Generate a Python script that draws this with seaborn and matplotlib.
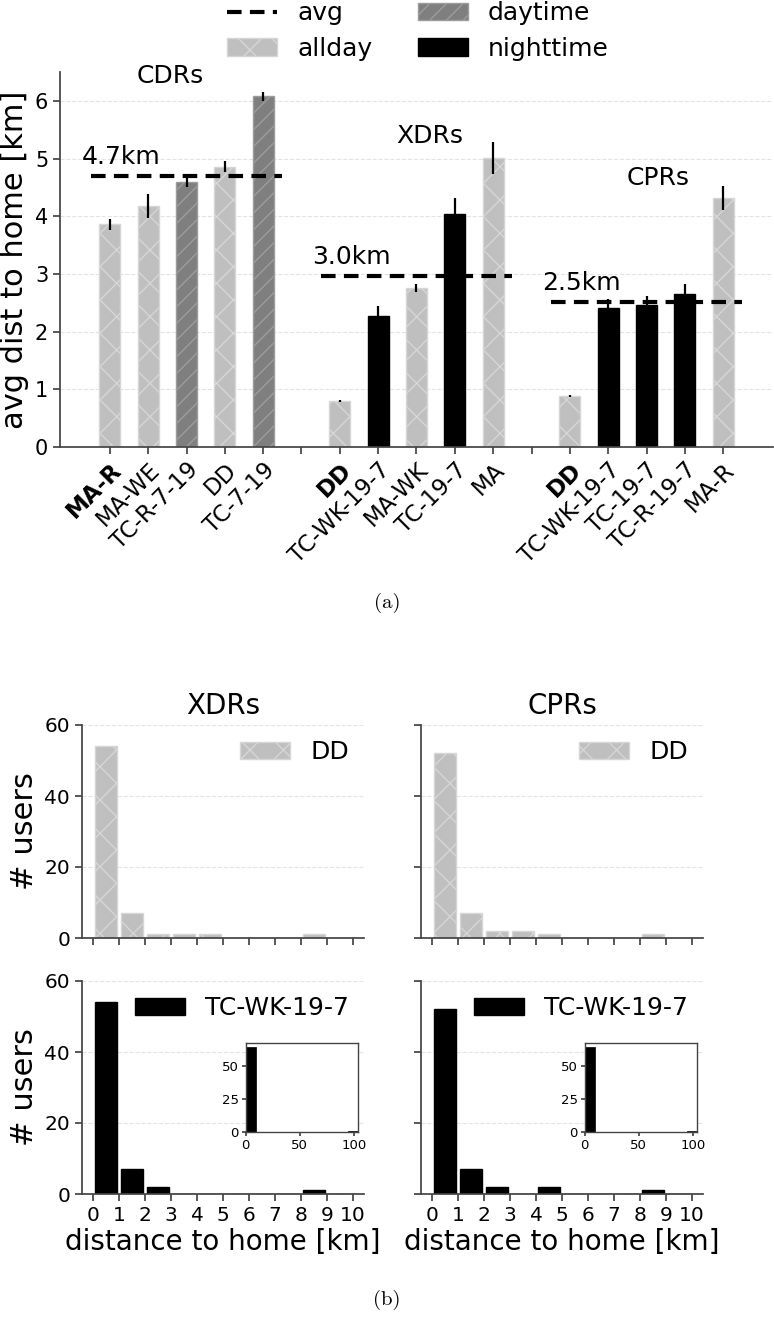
import numpy as np
import pandas as pd
import matplotlib
matplotlib.use("Agg")
import matplotlib.pyplot as plt
from matplotlib.patches import Patch
from matplotlib.lines import Line2D
import seaborn as sns

# ---------------- data ----------------
group_names = ["CDRs", "XDRs", "CPRs"]

cdr_labels = ["MA-R", "MA-WE", "TC-R-7-19", "DD", "TC-7-19"]
cdr_types = ["allday", "allday", "daytime", "allday", "daytime"]
cdr_vals = [3.86, 4.18, 4.60, 4.86, 6.08]
cdr_errs = [0.09, 0.21, 0.10, 0.09, 0.08]

xdr_labels = ["DD", "TC-WK-19-7", "MA-WK", "TC-19-7", "MA"]
xdr_types = ["allday", "nighttime", "allday", "nighttime", "allday"]
xdr_vals = [0.80, 2.27, 2.76, 4.04, 5.01]
xdr_errs = [0.02, 0.18, 0.07, 0.27, 0.28]

cpr_labels = ["DD", "TC-WK-19-7", "TC-19-7", "TC-R-19-7", "MA-R"]
cpr_types = ["allday", "nighttime", "nighttime", "nighttime", "allday"]
cpr_vals = [0.88, 2.41, 2.46, 2.65, 4.31]
cpr_errs = [0.02, 0.16, 0.16, 0.17, 0.21]

group_avgs = [4.70, 2.97, 2.52]

# histogram data (counts per 1 km bin, 0..10 km)
hist_edges = list(range(0, 11))
xdr_dd_counts = [54, 7, 1, 1, 1, 0, 0, 0, 1, 0]
cpr_dd_counts = [52, 7, 2, 2, 1, 0, 0, 0, 1, 0]
xdr_night_counts = [54, 7, 2, 0, 0, 0, 0, 0, 1, 0]
cpr_night_counts = [52, 7, 2, 0, 2, 0, 0, 0, 1, 0]
# inset: full range 0..104 km, 10 bins
inset_edges = list(np.linspace(0, 104, 11))
xdr_night_inset = [64, 0, 0, 0, 0, 0, 0, 0, 0, 1]
cpr_night_inset = [64, 0, 0, 0, 0, 0, 0, 0, 0, 1]

# ---------------- style ----------------
sns.set_theme(style="ticks")
plt.rcParams["font.family"] = ["DejaVu Sans"]
plt.rcParams["hatch.linewidth"] = 1.0
for k in ["text.color", "axes.labelcolor", "xtick.labelcolor", "ytick.labelcolor"]:
    plt.rcParams[k] = "black"

styles = {
    "allday": dict(facecolor="#bfbfbf", edgecolor="#d6d6d6", hatch="x"),
    "daytime": dict(facecolor="#7f7f7f", edgecolor="#9c9c9c", hatch="//"),
    "nighttime": dict(facecolor="#000000", edgecolor="#000000"),
}
grid_kw = dict(color="#e3e3e3", linestyle="--", linewidth=0.8)
spine_col = "#444444"

W, H = 774, 1317
fig = plt.figure(figsize=(W / 100, H / 100), dpi=100)

def fr(l, t, r, b):
    return [l / W, 1 - b / H, (r - l) / W, (b - t) / H]

# ---------------- top bar chart ----------------
ax = fig.add_axes(fr(60, 72, 773, 447))
groups = [
    (cdr_labels, cdr_types, cdr_vals, cdr_errs),
    (xdr_labels, xdr_types, xdr_vals, xdr_errs),
    (cpr_labels, cpr_types, cpr_vals, cpr_errs),
]
tick_pos, tick_lab = [], []
pos = 0
title_off = [(1.58, 6.43), (2.35, 5.39), (2.3, 4.67)]
for gi, (labs, typs, vals, errs) in enumerate(groups):
    start = pos
    xs = np.arange(start, start + len(labs))
    for x, t, v, e in zip(xs, typs, vals, errs):
        ax.bar(x, v, width=0.55, linewidth=1.0, zorder=2, **styles[t])
        ax.errorbar(x, v, yerr=e, color="black", linewidth=1.6, capsize=0, zorder=3)
    avg = group_avgs[gi]
    ax.plot([start - 0.5, xs[-1] + 0.5], [avg, avg], color="black",
            linestyle=(0, (3.5, 2)), linewidth=3, zorder=4)
    ax.text(start - 0.72, avg + 0.33, f"{avg:.1f}km", fontsize=18,
            va="center", ha="left")
    ax.text(start + title_off[gi][0], title_off[gi][1], group_names[gi],
            fontsize=18, ha="center", va="center")
    tick_pos += list(xs)
    tick_lab += labs
    if gi < 2:
        tick_pos.append(xs[-1] + 1)
        tick_lab.append("")
    pos = xs[-1] + 2

ax.set_xticks(tick_pos)
ax.set_xticklabels(tick_lab, rotation=45, ha="right", rotation_mode="anchor",
                   fontsize=16.5)
xt = ax.get_xticklabels()
for i in [0, 6, 12]:
    xt[i].set_fontweight("bold")
ax.set_xlim(-1.3, 17.3)
ax.set_ylim(0, 6.5)
ax.set_yticks(range(0, 7))
ax.tick_params(axis="y", labelsize=15, length=5, color=spine_col)
ax.tick_params(axis="x", length=5, color=spine_col, pad=3)
ax.set_ylabel("avg dist to home [km]", fontsize=22, labelpad=4)
ax.yaxis.grid(True, **grid_kw)
ax.set_axisbelow(True)
sns.despine(ax=ax)
for s in ["left", "bottom"]:
    ax.spines[s].set_color(spine_col)

leg_handles = [
    Line2D([0], [0], color="black", linestyle=(0, (3.5, 2)), linewidth=3, label="avg"),
    Patch(label="allday", **styles["allday"]),
    Patch(label="daytime", **styles["daytime"]),
    Patch(label="nighttime", **styles["nighttime"]),
]
fig.legend(handles=leg_handles, ncol=2, loc="upper center",
           bbox_to_anchor=(0.54, 1.016), frameon=False, fontsize=18,
           columnspacing=1.82, handlelength=2.0, labelspacing=0.45)

fig.text(0.5, 1 - 603 / H, "(a)", family="cmr10", fontsize=15, ha="center", va="center")
fig.text(0.5, 1 - 1300 / H, "(b)", family="cmr10", fontsize=15, ha="center", va="center")

# ---------------- histograms ----------------
centers = [(a + b) / 2 for a, b in zip(hist_edges[:-1], hist_edges[1:])]
inset_centers = [(a + b) / 2 for a, b in zip(inset_edges[:-1], inset_edges[1:])]
boxes = {
    (0, 0): fr(82, 725, 364, 938),
    (0, 1): fr(421, 725, 703, 938),
    (1, 0): fr(82, 981, 364, 1194),
    (1, 1): fr(421, 981, 703, 1194),
}
hist_data = {
    (0, 0): (xdr_dd_counts, "allday", "DD"),
    (0, 1): (cpr_dd_counts, "allday", "DD"),
    (1, 0): (xdr_night_counts, "nighttime", "TC-WK-19-7"),
    (1, 1): (cpr_night_counts, "nighttime", "TC-WK-19-7"),
}
inset_data = {(1, 0): xdr_night_inset, (1, 1): cpr_night_inset}
col_titles = ["XDRs", "CPRs"]

for (r, c), box in boxes.items():
    hax = fig.add_axes(box)
    counts, typ, lab = hist_data[(r, c)]
    st = styles[typ]
    df = pd.DataFrame({"dist": centers, "n": counts})
    sns.histplot(data=df, x="dist", weights="n", bins=hist_edges, shrink=0.83,
                 ax=hax, color=st["facecolor"], edgecolor=st["edgecolor"],
                 hatch=st.get("hatch"), linewidth=1.0, alpha=1, zorder=2)
    hax.set_xlim(-0.43, 10.43)
    hax.set_ylim(0, 60)
    hax.set_yticks([0, 20, 40, 60])
    hax.set_xticks(range(0, 11))
    hax.yaxis.grid(True, **grid_kw)
    hax.set_axisbelow(True)
    sns.despine(ax=hax)
    for s in ["left", "bottom"]:
        hax.spines[s].set_color(spine_col)
    hax.tick_params(labelsize=14.5, length=5, color=spine_col)
    if c == 1:
        hax.set_yticklabels([])
        hax.set_ylabel("")
    else:
        hax.set_ylabel("# users", fontsize=22, labelpad=4)
    if r == 0:
        hax.set_xticklabels([])
        hax.set_xlabel("")
        hax.set_title(col_titles[c], fontsize=20, pad=8)
    else:
        hax.set_xlabel("distance to home [km]", fontsize=20, labelpad=2)
    hax.legend(handles=[Patch(label=lab, **st)], loc="upper right",
               frameon=False, fontsize=18, borderaxespad=0.2)

    if (r, c) in inset_data:
        iax = hax.inset_axes([0.58, 0.29, 0.40, 0.42])
        idf = pd.DataFrame({"dist": inset_centers, "n": inset_data[(r, c)]})
        sns.histplot(data=idf, x="dist", weights="n", bins=inset_edges,
                     shrink=0.92, ax=iax, color="black", edgecolor="black",
                     linewidth=0.5, alpha=1)
        iax.set_xlim(0, 104)
        iax.set_ylim(0, 67.2)
        iax.set_xticks([0, 50, 100])
        iax.set_yticks([0, 25, 50])
        iax.set_xlabel("")
        iax.set_ylabel("")
        iax.tick_params(labelsize=9.5, length=3, pad=2, color=spine_col)
        for s in iax.spines.values():
            s.set_color(spine_col)
            s.set_linewidth(1.0)
        iax.set_facecolor("white")

fig.savefig("out.png", dpi=100)
